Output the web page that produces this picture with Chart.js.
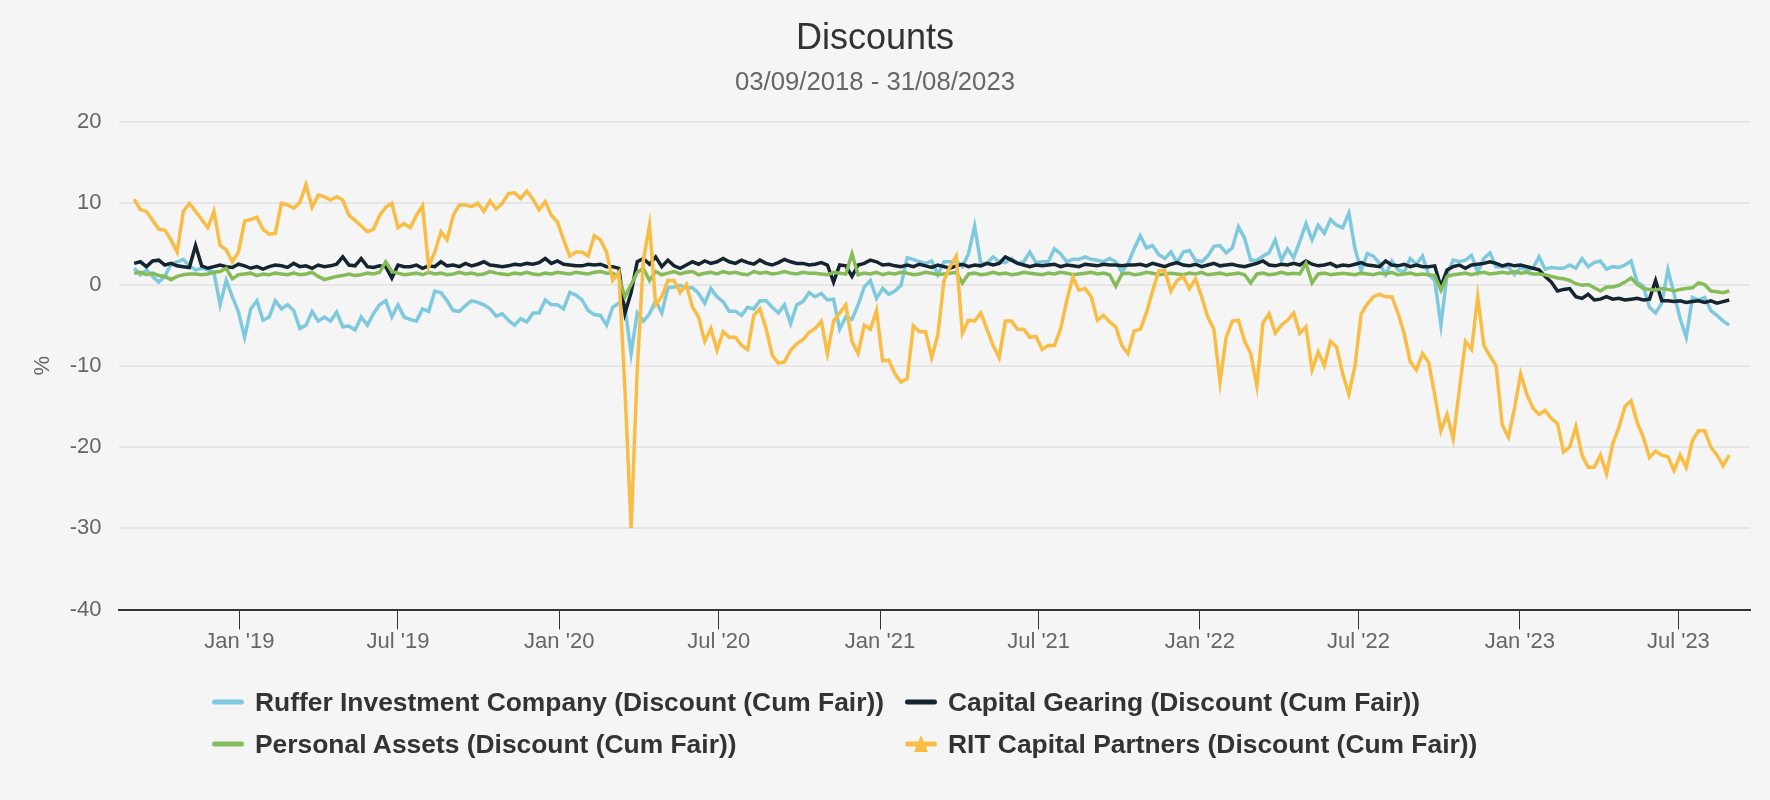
<!DOCTYPE html>
<html>
<head>
<meta charset="utf-8">
<title>Discounts</title>
<script src="https://cdn.jsdelivr.net/npm/chart.js@4.4.0/dist/chart.umd.min.js"></script>
<style>
  html, body { margin: 0; padding: 0; background: #f5f5f5; }
  #wrap { position: relative; width: 1770px; height: 800px; }
  #chart { position: absolute; left: 0; top: 0; }
  #legend {
    position: absolute; left: 212px; top: 681px;
    display: grid; grid-template-columns: 693px auto;
    font-family: "Liberation Sans", Arial, sans-serif;
    font-weight: bold; font-size: 26.4px; color: #333;
  }
  .item { display: flex; align-items: center; height: 42px; white-space: nowrap; }
  .item svg { margin-right: 11px; }
</style>
</head>
<body>
<div id="wrap">
  <canvas id="chart" width="1770" height="800"></canvas>
  <div id="legend"></div>
</div>
<script>
// weekly readings, first week starts 03/09/2018
const weekStart = '2018-09-03';

const tickDates  = ['2019-01-01', '2019-07-01', '2020-01-01', '2020-07-01', '2021-01-01',
                    '2021-07-01', '2022-01-01', '2022-07-01', '2023-01-01', '2023-07-01'];
const tickLabels = ["Jan '19", "Jul '19", "Jan '20", "Jul '20", "Jan '21",
                    "Jul '21", "Jan '22", "Jul '22", "Jan '23", "Jul '23"];

const seriesNames = [
  'Ruffer Investment Company (Discount (Cum Fair))',
  'Capital Gearing (Discount (Cum Fair))',
  'Personal Assets (Discount (Cum Fair))',
  'RIT Capital Partners (Discount (Cum Fair))'
];

const ruffer = [
  2.0, 1.2, 1.8, 1.0, 0.3, 1.0, 2.5, 2.8, 3.1, 2.3,
  1.8, 2.0, 1.8, 1.5, -2.5, 0.5, -1.5, -3.4, -6.5, -3.0,
  -2.0, -4.4, -4.0, -2.0, -3.0, -2.5, -3.2, -5.4, -5.0, -3.3,
  -4.5, -4.0, -4.5, -3.4, -5.2, -5.1, -5.6, -4.0, -5.0, -3.6,
  -2.5, -2.0, -4.0, -2.5, -4.0, -4.3, -4.5, -3.0, -3.3, -0.8,
  -1.0, -2.0, -3.2, -3.3, -2.6, -2.0, -2.2, -2.5, -3.0, -3.9,
  -3.6, -4.4, -5.0, -4.2, -4.6, -3.5, -3.5, -1.9, -2.5, -2.5,
  -3.0, -1.0, -1.3, -1.9, -3.2, -3.7, -3.8, -5.0, -2.8, -2.3,
  -2.8, -8.5, -3.5, -4.5, -3.6, -2.0, -3.5, -0.4, -0.3, -0.1,
  -0.4, -0.4, -1.1, -2.3, -0.5, -1.5, -2.1, -3.3, -3.3, -3.8,
  -2.8, -3.0, -2.0, -2.0, -2.8, -3.5, -2.5, -4.8, -2.5, -2.1,
  -1.0, -1.5, -1.1, -1.9, -1.8, -5.5, -4.0, -4.3, -2.5, -0.3,
  0.5, -1.7, -0.5, -1.2, -0.8, -0.1, 3.3, 3.1, 2.8, 2.6,
  2.9, 1.2, 2.8, 2.8, 2.9, 2.2, 3.8, 7.2, 2.6, 2.6,
  3.4, 2.8, 2.7, 3.2, 2.6, 2.8, 4.0, 2.7, 2.8, 2.8,
  4.4, 3.8, 2.8, 3.1, 3.1, 3.4, 3.1, 3.0, 2.8, 3.2,
  2.8, 1.5, 2.6, 4.4, 6.0, 4.5, 4.8, 3.7, 3.2, 4.0,
  2.7, 4.0, 4.2, 3.0, 2.8, 3.5, 4.7, 4.8, 3.9, 4.5,
  7.1, 5.7, 3.0, 3.0, 3.5, 3.9, 5.5, 3.0, 4.4, 3.3,
  5.3, 7.5, 5.5, 7.3, 6.3, 8.0, 7.3, 7.0, 8.8, 4.4,
  1.7, 3.8, 3.5, 2.6, 1.2, 2.9, 1.8, 1.5, 3.2, 2.5,
  3.5, 1.2, 0.5, -5.0, 1.2, 3.0, 2.8, 3.0, 3.6, 1.5,
  3.2, 3.9, 2.2, 2.2, 2.2, 1.2, 2.1, 1.8, 2.0, 3.4,
  1.9, 2.1, 2.0, 2.0, 2.4, 2.0, 3.2, 2.2, 2.7, 2.9,
  1.9, 2.2, 2.1, 2.4, 2.9, 0.3, -0.2, -2.8, -3.5, -2.3,
  1.8, -1.1, -4.2, -6.5, -1.6, -1.9, -1.6, -3.2, -3.8, -4.5, -5.0
];

const capitalGearing = [
  2.6, 2.8, 2.2, 2.9, 3.0, 2.4, 2.6, 2.3, 2.2, 2.1,
  4.8, 2.3, 2.0, 2.2, 2.4, 2.2, 2.1, 2.5, 2.3, 2.0,
  2.2, 1.9, 2.2, 2.4, 2.3, 2.1, 2.6, 2.2, 2.3, 2.0,
  2.4, 2.2, 2.3, 2.5, 3.4, 2.4, 2.3, 3.2, 2.2, 2.1,
  2.3, 2.2, 0.8, 2.4, 2.2, 2.2, 2.4, 2.0, 2.3, 2.2,
  2.8, 2.3, 2.4, 2.2, 2.6, 2.3, 2.5, 2.8, 2.4, 2.3,
  2.2, 2.3, 2.5, 2.4, 2.6, 2.5, 2.7, 3.2, 2.6, 2.9,
  2.5, 2.4, 2.3, 2.3, 2.5, 2.4, 2.5, 2.2, 2.2, 2.0,
  -3.5, -1.0, 2.8, 3.2, 2.5, 3.4, 2.2, 3.0, 2.3, 2.0,
  2.4, 2.8, 2.5, 2.9, 2.6, 2.8, 3.2, 2.8, 2.6, 3.0,
  2.7, 2.5, 3.0, 2.6, 2.4, 2.7, 3.1, 2.8, 2.6, 2.6,
  2.4, 2.5, 2.7, 2.4, 0.3, 2.4, 2.3, 1.0, 2.4, 2.6,
  3.0, 2.8, 2.4, 2.5, 2.3, 2.2, 2.4, 2.2, 2.5, 2.3,
  2.1, 2.4, 2.2, 2.0, 2.3, 2.5, 2.2, 2.4, 2.3, 2.6,
  2.4, 2.6, 3.4, 3.0, 2.6, 2.4, 2.2, 2.4, 2.3, 2.4,
  2.5, 2.2, 2.4, 2.3, 2.2, 2.5, 2.4, 2.3, 2.5, 2.4,
  2.4, 2.3, 2.4, 2.4, 2.5, 2.3, 2.6, 2.4, 2.2, 2.5,
  2.7, 2.4, 2.3, 2.5, 2.2, 2.4, 2.6, 2.3, 2.4, 2.5,
  2.3, 2.2, 2.4, 2.6, 2.9, 2.4, 2.3, 2.5, 2.4, 2.6,
  2.4, 2.9, 2.5, 2.3, 2.4, 2.6, 2.2, 2.4, 2.3, 2.5,
  2.7, 2.4, 2.3, 2.2, 2.9, 2.4, 2.3, 2.5, 2.2, 2.4,
  2.2, 2.2, 2.3, -0.3, 1.8, 2.2, 2.4, 2.0, 2.4, 2.5,
  2.6, 2.8, 2.6, 2.3, 2.5, 2.3, 2.4, 2.2, 2.0, 1.8,
  1.0, 0.3, -0.8, -0.6, -0.5, -1.5, -1.7, -1.2, -1.9, -1.8,
  -1.5, -1.8, -1.7, -1.9, -1.8, -1.7, -1.9, -1.8, 0.5, -2.0,
  -2.0, -2.1, -2.0, -2.2, -2.1, -2.0, -2.2, -2.0, -2.3, -2.1, -1.9
];

const personalAssets = [
  1.4, 1.5, 1.2, 1.4, 1.1, 1.0, 0.6, 1.0, 1.2, 1.3,
  1.3, 1.2, 1.3, 1.5, 1.6, 2.0, 0.7, 1.2, 1.3, 1.4,
  1.1, 1.3, 1.2, 1.4, 1.3, 1.2, 1.4, 1.2, 1.3, 1.5,
  1.0, 0.6, 0.8, 1.0, 1.1, 1.3, 1.1, 1.2, 1.4, 1.3,
  1.5, 2.8, 1.6, 1.4, 1.2, 1.3, 1.4, 1.2, 1.5, 1.3,
  1.4, 1.2, 1.3, 1.5, 1.3, 1.4, 1.2, 1.3, 1.6, 1.4,
  1.3, 1.2, 1.4, 1.3, 1.5, 1.3, 1.2, 1.4, 1.3, 1.5,
  1.4, 1.3, 1.5, 1.4, 1.3, 1.5, 1.6, 1.4, 1.4, 1.0,
  -1.5, 0.0, 1.5, 2.0, 0.5, 1.6, 1.2, 1.4, 1.6, 1.3,
  1.5, 1.6, 1.2, 1.4, 1.5, 1.3, 1.6, 1.4, 1.5, 1.3,
  1.2, 1.6, 1.4, 1.5, 1.3, 1.4, 1.6, 1.4, 1.3, 1.5,
  1.4, 1.4, 1.3, 1.2, 1.5, 1.4, 1.3, 3.8, 1.2, 1.4,
  1.3, 1.5, 1.2, 1.4, 1.3, 1.5, 1.4, 1.2, 1.3, 1.5,
  1.4, 1.2, 1.3, 1.4, 1.5, 0.2, 1.3, 1.4, 1.2, 1.3,
  1.5, 1.3, 1.4, 1.2, 1.3, 1.5, 1.4, 1.3, 1.2, 1.4,
  1.3, 1.5, 1.4, 1.2, 1.3, 1.4, 1.5, 1.3, 1.4, 1.2,
  -0.2, 1.3, 1.4, 1.2, 1.3, 1.5, 1.4, 1.2, 1.3, 1.4,
  1.3, 1.2, 1.4, 1.3, 1.5, 1.2, 1.3, 1.4, 1.2, 1.3,
  1.4, 1.2, 0.2, 1.3, 1.4, 1.2, 1.3, 1.5, 1.3, 1.4,
  1.3, 2.6, 0.2, 1.3, 1.4, 1.2, 1.3, 1.4, 1.3, 1.2,
  1.4, 1.3, 1.2, 1.4, 1.3, 1.5, 1.2, 1.3, 1.4, 1.2,
  1.3, 1.2, 1.1, -0.7, 1.0, 1.2, 1.3, 1.4, 1.2, 1.4,
  1.5, 1.3, 1.4, 1.5, 1.4, 1.6, 1.4, 1.5, 1.3, 1.3,
  1.2, 1.0, 0.8, 0.7, 0.5, 0.1, -0.1, 0.0, -0.4, -0.8,
  -0.3, -0.3, -0.1, 0.3, 0.8, 0.0, -0.5, -0.6, -0.7, -0.5,
  -0.6, -0.8, -0.6, -0.5, -0.4, 0.2, 0.0, -0.8, -0.9, -1.0, -0.8
];

const ritCapital = [
  10.5, 9.2, 9.0, 7.9, 6.8, 6.7, 5.5, 4.0, 9.0, 10.0,
  9.0, 8.0, 7.0, 9.0, 4.8, 4.3, 2.8, 4.0, 7.8, 8.0,
  8.3, 6.8, 6.2, 6.3, 10.0, 9.8, 9.4, 10.1, 12.3, 9.5,
  11.0, 10.8, 10.4, 10.8, 10.4, 8.5, 7.9, 7.2, 6.5, 6.8,
  8.5, 9.5, 10.0, 7.0, 7.5, 7.0, 8.5, 9.7, 2.2, 4.0,
  6.5, 5.5, 8.5, 9.8, 9.8, 9.6, 10.0, 9.0, 10.3, 9.3,
  10.0, 11.2, 11.3, 10.6, 11.5, 10.5, 9.2, 10.2, 8.5, 7.7,
  5.5, 3.5, 4.0, 4.0, 3.5, 6.0, 5.5, 4.0, 0.5, 1.5,
  -13.0, -30.0, -10.5, 3.0, 7.3, -2.5, -1.5, 0.5, 0.5, -1.0,
  0.0, -2.8, -4.0, -7.0, -5.4, -8.1, -5.8, -6.5, -6.5, -7.5,
  -8.0, -3.8, -3.0, -5.4, -8.7, -9.7, -9.5, -8.1, -7.3, -6.8,
  -5.9, -5.4, -4.5, -8.5, -4.5, -3.5, -2.5, -7.0, -8.5, -5.0,
  -5.5, -3.2, -9.4, -9.3, -11.0, -12.0, -11.6, -5.1, -5.8, -5.8,
  -9.0, -6.2, 0.5, 2.2, 3.5, -6.0, -4.4, -4.5, -3.5, -5.5,
  -7.5, -9.0, -4.5, -4.5, -5.5, -5.5, -6.5, -6.4, -8.0, -7.5,
  -7.5, -5.5, -2.0, 0.9, -0.7, -0.5, -1.5, -4.4, -3.8, -4.6,
  -5.2, -7.5, -8.5, -5.7, -5.5, -3.5, -0.8, 1.7, 1.7, -0.8,
  0.5, 1.0, -0.5, 0.7, -1.5, -4.0, -5.5, -12.0, -6.5, -4.5,
  -4.4, -7.0, -8.5, -12.5, -4.7, -3.6, -6.0, -5.0, -4.4, -3.5,
  -6.0, -5.2, -10.5, -8.3, -10.0, -7.0, -7.7, -11.0, -13.5, -10.0,
  -3.6, -2.4, -1.5, -1.2, -1.5, -1.5, -3.5, -6.0, -9.5, -10.5,
  -8.5, -9.6, -13.6, -18.0, -16.0, -19.0, -13.0, -7.0, -8.0, -1.5,
  -7.5, -8.8, -10.0, -17.3, -18.8, -15.2, -11.0, -13.5, -15.2, -16.0,
  -15.5, -16.5, -17.1, -20.6, -20.0, -17.5, -21.0, -22.5, -22.5, -21.0,
  -23.3, -19.6, -17.6, -15.0, -14.3, -17.0, -18.8, -21.3, -20.5, -21.0,
  -21.2, -22.9, -21.0, -22.5, -19.2, -18.0, -18.0, -20.0, -21.0, -22.3, -21.0
];

const lineColors = ['#7fc9de', '#15252f', '#86bb5a', '#f9bd45'];

const DAY = 86400000;
const startMs = Date.parse(weekStart);
const dates = ruffer.map((v, i) => startMs + i * 7 * DAY);

function toPoints(values) {
  return values.map((v, i) => ({ x: dates[i], y: v }));
}

Chart.defaults.font.family = '"Liberation Sans", Arial, sans-serif';

const allSeries = [ruffer, capitalGearing, personalAssets, ritCapital];
const datasets = allSeries.map((vals, k) => ({
  label: seriesNames[k],
  data: toPoints(vals),
  borderColor: lineColors[k],
  backgroundColor: lineColors[k],
  borderWidth: 3.5,
  pointRadius: 0,
  tension: 0,
  order: 4 - k
}));

const chart = new Chart(document.getElementById('chart').getContext('2d'), {
  type: 'line',
  data: { datasets },
  options: {
    responsive: false,
    animation: false,
    devicePixelRatio: 1,
    layout: { padding: { left: 0, right: 20, top: 0, bottom: 0 } },
    plugins: {
      legend: { display: false },
      tooltip: { enabled: false },
      title: {
        display: true, text: 'Discounts', color: '#333',
        font: { size: 36, weight: 'normal' },
        padding: { top: 17, bottom: 3.4 }
      },
      subtitle: {
        display: true, text: '03/09/2018 - 31/08/2023', color: '#666',
        font: { size: 25.7 },
        padding: { top: 4, bottom: 23.6 }
      }
    },
    scales: {
      x: {
        type: 'linear',
        min: Date.parse('2019-01-01') - 137.9 * DAY,
        max: Date.parse('2023-01-01') + 262.7 * DAY,
        afterBuildTicks: s => { s.ticks = tickDates.map(d => ({ value: Date.parse(d) })); },
        afterFit: s => { s.height = 190.5; },
        grid: { drawOnChartArea: false, drawTicks: true, tickLength: 20, color: '#333', lineWidth: 1 },
        border: { display: true, color: '#333', width: 2 },
        ticks: {
          autoSkip: false, maxRotation: 0, padding: -1,
          color: '#666', font: { size: 22 },
          callback: (v, i) => tickLabels[i]
        }
      },
      y: {
        min: -40, max: 20,
        afterFit: s => { s.width = 118.5; },
        grid: { color: '#e6e6e6', lineWidth: 2, drawTicks: false },
        border: { display: false },
        ticks: { stepSize: 10, padding: 17, color: '#666', font: { size: 22 } },
        title: { display: true, text: '%', color: '#666', font: { size: 22 }, padding: { top: 30, bottom: 0 } }
      }
    }
  }
});

// html legend, two fixed columns like the original
const legendBox = document.getElementById('legend');
chart.data.datasets.forEach((ds, k) => {
  const item = document.createElement('div');
  item.className = 'item';
  let svg = '<svg width="32" height="22" viewBox="0 0 32 22">' +
    '<line x1="2.5" y1="11" x2="29.5" y2="11" stroke="' + ds.borderColor + '" stroke-width="5" stroke-linecap="round"/>';
  if (k === 3) svg += '<path d="M16 2 L23 19 L9 19 Z" fill="' + ds.borderColor + '"/>';
  svg += '</svg>';
  item.innerHTML = svg + '<span>' + ds.label + '</span>';
  legendBox.appendChild(item);
});
</script>
</body>
</html>
